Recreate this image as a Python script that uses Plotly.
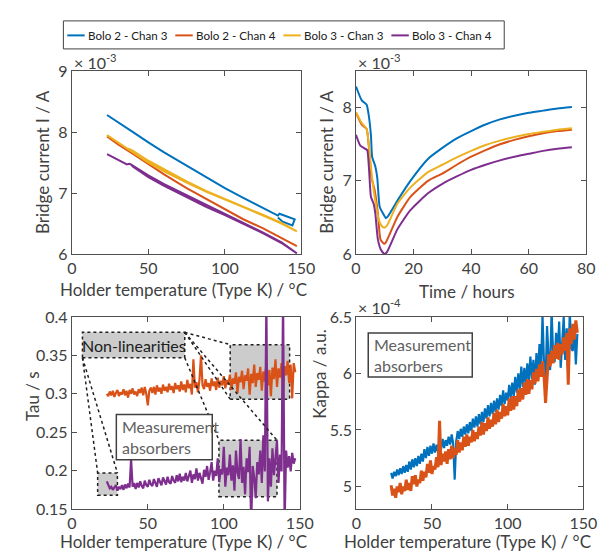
import plotly.graph_objects as go

# ---------------- data ----------------
series_names = ["Bolo 2 - Chan 3", "Bolo 2 - Chan 4", "Bolo 3 - Chan 3", "Bolo 3 - Chan 4"]
colors = ["#0072BD", "#D95319", "#EDB120", "#7E2F8E"]

# Top-left: bridge current (x1e-3 A) vs holder temperature
tl_b23_T = [23, 30, 40, 50, 60, 75, 88, 100, 112, 125, 134.6, 135.6, 145.6, 144.1, 137.7, 134.6]
tl_b23_I = [8.28, 8.17, 8.00, 7.83, 7.67, 7.45, 7.26, 7.08, 6.92, 6.76, 6.63, 6.66, 6.57, 6.47, 6.53, 6.60]
tl_b24_T = [23, 30, 40, 50, 60, 75, 88, 100, 112, 125, 137, 147]
tl_b24_I = [7.93, 7.80, 7.64, 7.47, 7.31, 7.08, 6.90, 6.73, 6.57, 6.42, 6.26, 6.13]
tl_b33_T = [23, 30, 36, 37, 40, 50, 60, 75, 88, 100, 112, 125, 137, 147, 137, 125, 112, 100, 88, 75, 60, 50, 40, 37]
tl_b33_I = [7.95, 7.83, 7.74, 7.72, 7.66, 7.50, 7.36, 7.17, 7.02, 6.90, 6.77, 6.63, 6.50, 6.37, 6.51, 6.64, 6.78, 6.91, 7.03, 7.19, 7.39, 7.53, 7.69, 7.73]
tl_b34_T = [23, 30, 36, 37.5, 38.5, 40, 50, 60, 75, 88, 100, 112, 125, 137, 147, 137, 125, 112, 100, 88, 75, 60, 50, 40, 38]
tl_b34_I = [7.64, 7.55, 7.47, 7.48, 7.47, 7.43, 7.26, 7.12, 6.93, 6.77, 6.64, 6.50, 6.34, 6.18, 6.01, 6.19, 6.35, 6.51, 6.66, 6.80, 6.97, 7.15, 7.29, 7.46, 7.48]

# Top-right: bridge current (x1e-3 A) vs time
tr_b23_t = [0, 2, 3.7, 4.3, 5.2, 5.6, 6.7, 7.4, 8.2, 9.3, 10.4, 11, 14.4, 18.9, 25, 30, 35, 40, 45, 50, 55, 60, 65, 70, 75]
tr_b23_I = [8.29, 8.10, 8.04, 7.93, 7.62, 7.33, 7.20, 7.04, 6.65, 6.56, 6.49, 6.51, 6.73, 7.00, 7.30, 7.45, 7.58, 7.68, 7.77, 7.84, 7.89, 7.93, 7.96, 7.99, 8.01]
tr_b24_t = [0, 2, 3.7, 4.5, 5.4, 6.5, 7.6, 8.5, 9.7, 10.4, 14.4, 18.9, 25, 30, 35, 40, 45, 50, 55, 60, 65, 70, 75]
tr_b24_I = [7.93, 7.77, 7.71, 7.45, 7.04, 6.87, 6.56, 6.20, 6.14, 6.16, 6.51, 6.78, 7.00, 7.10, 7.22, 7.33, 7.42, 7.50, 7.56, 7.61, 7.65, 7.68, 7.70]
tr_b33_t = [0, 2, 3.7, 4.8, 5.6, 6.7, 7.9, 9.0, 9.9, 10.8, 14.4, 18.9, 25, 30, 35, 40, 45, 50, 55, 60, 65, 70, 75]
tr_b33_I = [7.94, 7.79, 7.71, 7.35, 7.04, 6.73, 6.47, 6.38, 6.36, 6.39, 6.69, 6.91, 7.12, 7.22, 7.32, 7.41, 7.49, 7.55, 7.60, 7.64, 7.67, 7.70, 7.72]
tr_b34_t = [0, 1.5, 3.1, 3.9, 4.5, 5.2, 6.1, 6.7, 7.6, 8.75, 9.9, 10.8, 14.4, 18.9, 25, 30, 35, 40, 45, 50, 55, 60, 65, 70, 75]
tr_b34_I = [7.63, 7.48, 7.44, 7.42, 7.18, 6.78, 6.69, 6.56, 6.20, 6.05, 6.00, 6.03, 6.34, 6.60, 6.83, 6.96, 7.06, 7.15, 7.22, 7.28, 7.33, 7.37, 7.41, 7.44, 7.46]

# Bottom panels: sampled holder temperatures
temps_tau = list(range(23, 148))
temps_kappa = list(range(23, 147))

tau_b24 = [
    0.300, 0.297, 0.303, 0.298, 0.304, 0.296, 0.301, 0.305, 0.297, 0.302,
    0.299, 0.306, 0.298, 0.304, 0.295, 0.305, 0.300, 0.307, 0.299, 0.303,
    0.297, 0.306, 0.301, 0.308, 0.298, 0.309, 0.300, 0.285, 0.304, 0.308,
    0.301, 0.309, 0.299, 0.311, 0.303, 0.308, 0.300, 0.312, 0.304, 0.309,
    0.302, 0.313, 0.305, 0.310, 0.301, 0.314, 0.306, 0.311, 0.303, 0.316,
    0.305, 0.312, 0.302, 0.318, 0.307, 0.313, 0.299, 0.345, 0.308, 0.315,
    0.302, 0.318, 0.350, 0.311, 0.306, 0.319, 0.309, 0.314, 0.304, 0.320,
    0.310, 0.316, 0.305, 0.321, 0.308, 0.317, 0.311, 0.323, 0.307, 0.318,
    0.312, 0.325, 0.305, 0.320, 0.313, 0.328, 0.301, 0.322, 0.315, 0.330,
    0.306, 0.324, 0.317, 0.333, 0.299, 0.326, 0.314, 0.338, 0.309, 0.327,
    0.318, 0.335, 0.304, 0.329, 0.316, 0.340, 0.311, 0.331, 0.297, 0.334,
    0.319, 0.345, 0.309, 0.333, 0.321, 0.340, 0.305, 0.336, 0.324, 0.343,
    0.314, 0.338, 0.294, 0.340, 0.328,
]
tau_b34 = [
    0.186, 0.180, 0.177, 0.179, 0.175, 0.178, 0.181, 0.174, 0.179, 0.176,
    0.181, 0.175, 0.182, 0.177, 0.183, 0.178, 0.215, 0.179, 0.184, 0.176,
    0.184, 0.178, 0.186, 0.180, 0.177, 0.187, 0.181, 0.179, 0.188, 0.182,
    0.180, 0.189, 0.183, 0.179, 0.190, 0.184, 0.181, 0.191, 0.185, 0.182,
    0.192, 0.185, 0.183, 0.193, 0.187, 0.184, 0.194, 0.186, 0.196, 0.185,
    0.192, 0.187, 0.197, 0.186, 0.193, 0.200, 0.184, 0.195, 0.189, 0.203,
    0.187, 0.197, 0.190, 0.183, 0.201, 0.192, 0.206, 0.188, 0.198, 0.211,
    0.187, 0.200, 0.193, 0.216, 0.185, 0.202, 0.195, 0.231, 0.179, 0.204,
    0.194, 0.221, 0.187, 0.207, 0.174, 0.226, 0.197, 0.189, 0.241, 0.184,
    0.205, 0.169, 0.216, 0.198, 0.231, 0.130, 0.206, 0.191, 0.164, 0.211,
    0.195, 0.226, 0.184, 0.246, 0.199, 0.420, 0.160, 0.216, 0.179, 0.229,
    0.194, 0.213, 0.239, 0.184, 0.221, 0.199, 0.425, 0.130, 0.226, 0.204,
    0.219, 0.199, 0.223, 0.209, 0.216,
]

# kappa (x1e-4)
kappa_b23 = [
    5.12, 5.07, 5.13, 5.09, 5.15, 5.10, 5.16, 5.11, 5.18, 5.12,
    5.19, 5.13, 5.22, 5.15, 5.24, 5.17, 5.25, 5.18, 5.27, 5.20,
    5.29, 5.22, 5.33, 5.25, 5.35, 5.27, 5.36, 5.29, 5.38, 5.30,
    5.37, 5.31, 5.40, 5.33, 5.42, 5.34, 5.41, 5.36, 5.44, 5.37,
    5.46, 5.38, 5.06, 5.40, 5.49, 5.42, 5.51, 5.44, 5.53, 5.46,
    5.55, 5.47, 5.57, 5.49, 5.60, 5.52, 5.62, 5.53, 5.64, 5.55,
    5.66, 5.57, 5.69, 5.60, 5.72, 5.62, 5.74, 5.64, 5.76, 5.66,
    5.78, 5.68, 5.81, 5.71, 5.85, 5.73, 5.83, 5.76, 5.90, 5.78,
    5.92, 5.80, 5.97, 5.83, 6.00, 5.86, 6.06, 5.88, 6.05, 5.91,
    6.09, 5.93, 6.15, 5.95, 6.12, 5.90, 6.18, 5.99, 6.26, 6.02,
    6.52, 6.08, 5.92, 6.42, 6.14, 6.03, 6.55, 6.18, 6.10, 6.36,
    6.16, 6.46, 6.05, 6.33, 6.50, 6.12, 6.40, 5.98, 6.55, 6.22,
    6.20, 6.42, 6.08, 6.35,
]
kappa_b24 = [
    5.01, 4.92, 4.98, 4.90, 5.00, 4.95, 5.03, 4.93, 5.00, 4.96,
    5.06, 4.97, 5.03, 4.96, 5.09, 5.02, 5.10, 5.00, 5.06, 5.03,
    5.14, 5.05, 5.13, 5.08, 5.20, 5.12, 5.23, 5.11, 5.18, 5.15,
    5.26, 5.17, 5.58, 5.19, 5.29, 5.22, 5.31, 5.20, 5.33, 5.24,
    5.36, 5.25, 5.34, 5.28, 5.41, 5.30, 5.39, 5.32, 5.44, 5.35,
    5.46, 5.36, 5.44, 5.39, 5.50, 5.40, 5.48, 5.42, 5.53, 5.45,
    5.57, 5.46, 5.56, 5.49, 5.61, 5.51, 5.59, 5.53, 5.65, 5.55,
    5.68, 5.57, 5.66, 5.60, 5.73, 5.62, 5.71, 5.63, 5.78, 5.67,
    5.80, 5.68, 5.80, 5.71, 5.86, 5.75, 5.87, 5.77, 5.92, 5.81,
    5.95, 5.82, 5.94, 5.86, 6.01, 5.91, 6.04, 5.93, 6.08, 5.97,
    6.11, 5.98, 5.74, 6.02, 6.17, 6.06, 6.20, 6.09, 6.25, 6.13,
    6.27, 6.12, 6.26, 6.17, 6.32, 6.20, 6.36, 5.90, 6.40, 6.26,
    6.44, 6.30, 6.47, 6.36,
]

# ---------------- figure ----------------
W, H = 611, 559
FONT = "Lato"
TXT = "#404040"

def px(xp):
    return xp / W

def py(yp):
    return 1 - yp / H

fig = go.Figure()

tl = [(tl_b23_T, tl_b23_I), (tl_b24_T, tl_b24_I), (tl_b33_T, tl_b33_I), (tl_b34_T, tl_b34_I)]
for (xs, ys), name, c in zip(tl, series_names, colors):
    fig.add_trace(go.Scatter(x=xs, y=ys, mode="lines", name=name, showlegend=False,
                             line=dict(color=c, width=2), xaxis="x", yaxis="y"))

tr = [(tr_b23_t, tr_b23_I), (tr_b24_t, tr_b24_I), (tr_b33_t, tr_b33_I), (tr_b34_t, tr_b34_I)]
for (xs, ys), name, c in zip(tr, series_names, colors):
    fig.add_trace(go.Scatter(x=xs, y=ys, mode="lines", name=name, showlegend=False,
                             line=dict(color=c, width=2, shape="spline", smoothing=0.5),
                             xaxis="x2", yaxis="y2"))

fig.add_trace(go.Scatter(x=temps_tau, y=tau_b24, mode="lines", showlegend=False,
                         line=dict(color=colors[1], width=2.2), xaxis="x3", yaxis="y3"))
fig.add_trace(go.Scatter(x=temps_tau, y=tau_b34, mode="lines", showlegend=False,
                         line=dict(color=colors[3], width=2.2), xaxis="x3", yaxis="y3"))

fig.add_trace(go.Scatter(x=temps_kappa, y=kappa_b23, mode="lines", showlegend=False,
                         line=dict(color=colors[0], width=2.2), xaxis="x4", yaxis="y4"))
fig.add_trace(go.Scatter(x=temps_kappa, y=kappa_b24, mode="lines", showlegend=False,
                         line=dict(color=colors[1], width=3), xaxis="x4", yaxis="y4"))

axis_common = dict(showline=True, linecolor="#505050", linewidth=1, mirror="ticks",
                   ticks="inside", ticklen=5, tickcolor="#505050", showgrid=False,
                   zeroline=False, tickfont=dict(family=FONT, size=16, color=TXT))

dom_tl_x = [px(60.7), px(297.7)]
dom_tr_x = [px(354), px(591.7)]
dom_top_y = [py(244.3), py(55)]
dom_bl_x = [px(60.7), px(296)]
dom_br_x = [px(354.3), px(588.7)]
dom_bot_y = [py(508.3), py(309.5)]

fig.update_layout(
    width=W, height=H, autosize=False,
    margin=dict(l=0, r=0, t=0, b=0),
    paper_bgcolor="white", plot_bgcolor="white",
    font=dict(family=FONT, color=TXT),
    showlegend=False,
    xaxis=dict(domain=dom_tl_x, range=[0, 150], tickvals=[0, 50, 100, 150], anchor="y", **axis_common),
    yaxis=dict(domain=dom_top_y, range=[6, 9], tickvals=[6, 7, 8, 9], anchor="x", **axis_common),
    xaxis2=dict(domain=dom_tr_x, range=[0, 80], tickvals=[0, 20, 40, 60, 80], anchor="y2", **axis_common),
    yaxis2=dict(domain=dom_top_y, range=[6, 8.5], tickvals=[6, 7, 8], anchor="x2", **axis_common),
    xaxis3=dict(domain=dom_bl_x, range=[0, 150], tickvals=[0, 50, 100, 150], anchor="y3", **axis_common),
    yaxis3=dict(domain=dom_bot_y, range=[0.15, 0.4], tickvals=[0.15, 0.2, 0.25, 0.3, 0.35, 0.4],
                ticktext=["0.15", "0.2", "0.25", "0.3", "0.35", "0.4"], anchor="x3", **axis_common),
    xaxis4=dict(domain=dom_br_x, range=[0, 150], tickvals=[0, 50, 100, 150], anchor="y4", **axis_common),
    yaxis4=dict(domain=dom_bot_y, range=[4.8, 6.5], tickvals=[5, 5.5, 6, 6.5],
                ticktext=["5", "5.5", "6", "6.5"], anchor="x4", **axis_common),
)

ann = []
shapes = []

def text(x, y, s, size=17, angle=0, xanchor="center", color=TXT):
    ann.append(dict(x=px(x), y=py(y), xref="paper", yref="paper", text=s, showarrow=False,
                    textangle=angle, xanchor=xanchor, yanchor="middle",
                    font=dict(family=FONT, size=size, color=color)))

# Legend (box, line samples, labels)
shapes.append(dict(type="rect", xref="paper", yref="paper", x0=px(52), x1=px(507), y0=py(32), y1=py(3),
                   fillcolor="white", line=dict(color="#404040", width=1)))
for i, (name, c) in enumerate(zip(series_names, colors)):
    x0 = 56 + 111.5 * i
    shapes.append(dict(type="line", xref="paper", yref="paper", x0=px(x0), x1=px(x0 + 18),
                       y0=py(18), y1=py(18), line=dict(color=c, width=2)))
    text(x0 + 19, 18, name, size=11.6, xanchor="left", color="#202020")

xt = "Holder temperature (Type K) / °C"
text(176, 281, xt)
text(469, 283, "Time / hours")
text(176, 542, xt)
text(469, 542, xt)
text(31, 149, "Bridge current I / A", angle=-90)
text(324, 149, "Bridge current I / A", angle=-90)
text(20, 391, "Tau / s", angle=-90)
text(316, 368, "Kappa / a.u.", angle=-90)
text(61, 45, "× 10<sup>-3</sup>", size=16, xanchor="left")
text(354, 45, "× 10<sup>-3</sup>", size=16, xanchor="left")
text(354, 299, "× 10<sup>-4</sup>", size=16, xanchor="left")

# Bottom-left callouts (data coordinates of the tau axes)
gray = "#CCCCCC"
dot = dict(color="#202020", width=1.5, dash="dot")
nl_box = (7, 74.3, 0.347, 0.380)
ur_box = (104.2, 143.3, 0.293, 0.364)
ll_box = (17, 30, 0.168, 0.197)
lr_box = (96.8, 135, 0.166, 0.2395)
for (x0, x1, y0, y1) in [nl_box, ur_box, ll_box, lr_box]:
    shapes.append(dict(type="rect", xref="x3", yref="y3", x0=x0, x1=x1, y0=y0, y1=y1,
                       fillcolor=gray, line=dot, layer="below"))
links = [
    ((nl_box[1], nl_box[3]), (ur_box[0], ur_box[3])),
    ((nl_box[1], nl_box[3]), (ur_box[0], ur_box[2])),
    ((nl_box[1], nl_box[2]), (lr_box[0], lr_box[3])),
    ((nl_box[1], nl_box[3]), (lr_box[1], lr_box[3])),
    ((nl_box[0], nl_box[2]), (ll_box[0], ll_box[3])),
    ((nl_box[0], nl_box[2]), (ll_box[1], ll_box[3])),
]
for (a, b) in links:
    shapes.append(dict(type="line", xref="x3", yref="y3", x0=a[0], y0=a[1], x1=b[0], y1=b[1],
                       line=dot, layer="above"))
# measurement absorber boxes
shapes.append(dict(type="rect", xref="x3", yref="y3", x0=29.3, x1=92.4, y0=0.214, y1=0.273,
                   fillcolor="white", line=dict(color="#404040", width=1.5), layer="above"))
shapes.append(dict(type="rect", xref="x4", yref="y4", x0=7.9, x1=76.6, y0=5.969, y1=6.358,
                   fillcolor="white", line=dict(color="#404040", width=1.5), layer="above"))

ann.append(dict(x=(nl_box[0] + nl_box[1]) / 2, y=(nl_box[2] + nl_box[3]) / 2, xref="x3", yref="y3",
                text="Non-linearities", showarrow=False,
                font=dict(family=FONT, size=16, color="#202020")))
ann.append(dict(x=32, y=0.2435, xref="x3", yref="y3", text="Measurement<br>absorbers",
                showarrow=False, xanchor="left", align="left",
                font=dict(family=FONT, size=16, color="#606060")))
ann.append(dict(x=10.5, y=6.163, xref="x4", yref="y4", text="Measurement<br>absorbers",
                showarrow=False, xanchor="left", align="left",
                font=dict(family=FONT, size=16, color="#606060")))

fig.update_layout(annotations=ann, shapes=shapes)
fig.write_html("out.html")
